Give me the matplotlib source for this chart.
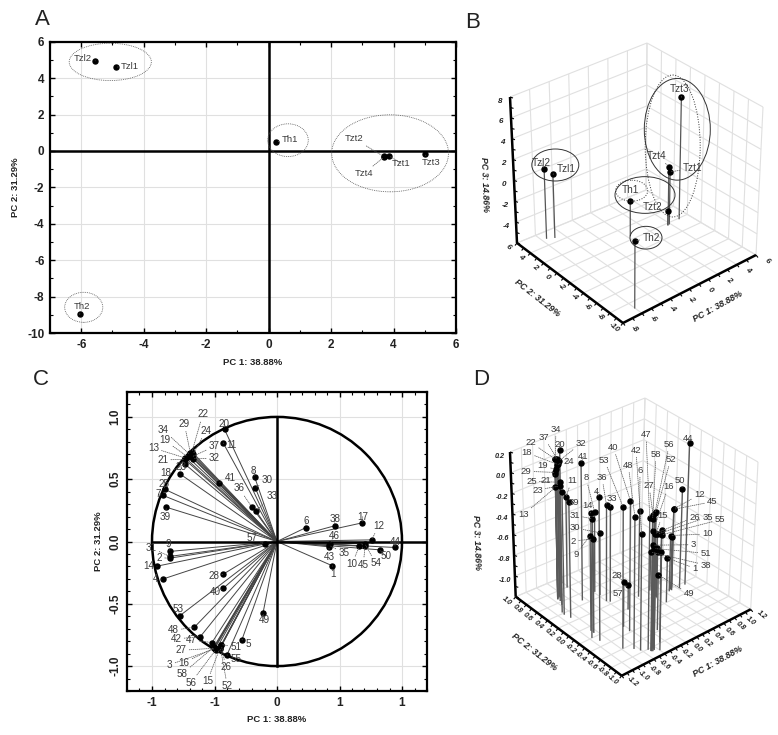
"""PCA figure: score plots (A, B) and loading plots (C, D)."""

import matplotlib
matplotlib.use("Agg")
import matplotlib.pyplot as plt
import numpy as np
from matplotlib.patches import Circle, Ellipse
from matplotlib.ticker import MultipleLocator

plt.rcParams["font.family"] = ["Liberation Sans", "DejaVu Sans"]
plt.rcParams["axes.unicode_minus"] = False

# scores
sample_names = ["Tzl1", "Tzl2", "Th1", "Th2", "Tzt1", "Tzt2", "Tzt3", "Tzt4"]
score_pc1 = [-4.9, -5.55, 0.25, -6.05, 3.87, 3.68, 5.0, 3.7]
score_pc2 = [4.6, 4.95, 0.5, -8.98, -0.28, -0.3, -0.17, -0.33]
score_pc3 = [0.1, 0.7, -2.6, 0.5, -1.0, -4.6, 5.6, -0.4]

# loadings, variables 1..58
var_ids = list(range(1, 59))
load_pc1 = [0.443, -0.86, -0.50, -0.915, -0.28, 0.232, -0.912, -0.18, -0.86, 0.659,
            -0.43, 0.757, -0.733, -0.96, -0.459, -0.50, 0.683, -0.735, -0.715, -0.42,
            -0.739, -0.68, -0.78, -0.672, -0.90, -0.445, -0.507, -0.43, -0.693, -0.173,
            -0.858, -0.672, -0.168, -0.70, 0.419, -0.203, -0.68, 0.461, -0.885, -0.432,
            -0.467, -0.613, 0.416, 0.944, 0.704, 0.424, -0.52, -0.661, -0.112, 0.821,
            -0.445, -0.453, -0.779, 0.704, -0.40, -0.49, -0.10, -0.507]
load_pc2 = [-0.195, -0.134, -0.862, -0.302, -0.787, 0.112, 0.37, 0.52, -0.08, -0.037,
            0.79, 0.013, 0.67, -0.198, -0.862, -0.854, 0.15, 0.62, 0.68, 0.90,
            0.66, 0.72, 0.545, 0.70, 0.42, -0.833, -0.857, -0.262, 0.71, 0.43,
            -0.12, 0.665, 0.244, 0.70, -0.032, 0.28, 0.68, 0.126, 0.275, -0.377,
            0.47, -0.763, -0.043, -0.048, -0.037, -0.019, -0.811, -0.688, -0.575, -0.067,
            -0.827, -0.854, -0.597, -0.019, -0.91, -0.87, -0.02, -0.849]
load_pc3 = [-0.776, -0.29, -0.175, 0.19, -0.33, -0.377, -0.016, -0.426, -0.277, -0.665,
            -0.325, -0.45, -0.12, 0.008, -0.08, -0.04, -0.68, 0.12, 0.045, 0.09,
            0.01, 0.122, -0.05, 0.074, 0.06, -0.09, 0.113, -0.765, 0.0, -0.60,
            -0.10, 0.12, -0.283, 0.13, -0.595, -0.275, 0.135, -0.83, -0.08, 0.06,
            0.127, -0.075, -0.76, 0.157, -0.425, -0.73, 0.072, 0.074, -0.665, -0.25,
            -0.235, 0.13, 0.171, -0.70, -0.085, 0.135, -0.96, 0.071]

pc1_title = "PC 1: 38.88%"
pc2_title = "PC 2: 31.29%"
pc3_title = "PC 3: 14.86%"
c_xticks = [-1.0, -0.5, 0.0, 0.5, 1.0]
c_xticklabels = ["-1", "-1", "0", "1", "1"]
c_yticks = [-1.0, -0.5, 0.0, 0.5, 1.0]
c_yticklabels = ["-1.0", "-0.5", "0.0", "0.5", "1.0"]

# everything below is layout, in figure pixels unless noted
W, H = 778, 735
TEXT = "#3a3a3a"
GRID = "#e0e0e0"

A_BOX = (50, 41.7, 456, 333)
C_BOX = (127, 392, 427, 691)

A_LABELS = {"Tzl2": (83.3, 58.7), "Tzl1": (130, 66), "Th1": (290, 139), "Tzt2": (354.3, 138.7),
            "Tzt1": (401, 163.3), "Tzt3": (431.3, 162.7), "Tzt4": (364, 173.3), "Th2": (81.7, 306.3)}
B_LABELS = {"Tzl2": (541, 163.3), "Tzl1": (566, 169), "Tzt3": (680, 88.7), "Tzt4": (656.7, 155.7),
            "Tzt1": (692.3, 168.3), "Th1": (630.7, 190.3), "Tzt2": (653, 206.7), "Th2": (651, 238.3)}
C_LABELS = {22: (202.7, 414.3), 29: (184.3, 423.7), 34: (163, 429.7), 20: (224, 424.3), 24: (206, 430.7),
            19: (164.7, 440.3), 37: (214.3, 446.3), 11: (231.7, 445), 13: (153.3, 448), 21: (162.7, 460),
            32: (214.3, 458.3), 18: (166, 473.3), 23: (181.3, 467.3), 8: (253.7, 470.7), 41: (230, 477.7),
            30: (267.3, 480), 25: (164, 483.7), 36: (239, 488.3), 7: (158.3, 494.3), 33: (271.7, 495.7),
            39: (165, 517.3), 57: (252.3, 537.7), 31: (151, 547.7), 9: (168.7, 544.3), 2: (159.3, 557.7),
            14: (148.7, 566.3), 4: (155.7, 579.3), 28: (213.7, 576), 40: (215.3, 592), 53: (178.3, 609.3),
            49: (264, 620.3), 48: (173.3, 630.3), 42: (176, 639), 47: (191, 640), 5: (248, 643.7),
            51: (235.7, 647), 27: (181, 650.3), 55: (235.7, 659), 16: (184, 662.7), 3: (169.7, 664.7),
            26: (225.7, 667.3), 58: (182, 674), 15: (207.3, 681.3), 56: (191, 682.7), 52: (227.3, 686),
            6: (306, 521), 38: (334.7, 519.3), 17: (362.7, 516.7), 12: (378.7, 525.7), 46: (334, 536.3),
            44: (395, 541.7), 35: (344, 553), 43: (329, 557), 10: (352, 564), 50: (386.3, 556.3),
            54: (375.7, 563.3), 45: (363.3, 564.7), 1: (332.7, 574)}
D_LABELS = {34: (556, 429.3), 37: (544, 437.3), 22: (530.7, 442.3), 20: (560, 444), 32: (581, 443.3),
            18: (526.7, 452.7), 24: (568.3, 461.7), 41: (583.3, 456.7), 19: (542.7, 465.7), 40: (613.3, 447.3),
            53: (604.3, 460), 29: (526, 471.3), 25: (531.3, 481), 21: (546, 480), 11: (571.7, 480.7),
            8: (586, 477.7), 36: (602, 477.3), 23: (537.3, 490), 4: (596.3, 491.7), 33: (612, 498),
            39: (573.7, 502.3), 14: (587.3, 505), 13: (523.3, 514.7), 31: (574.7, 515.3), 30: (575.3, 528),
            2: (573.3, 541), 9: (575.7, 554.7), 28: (616.7, 575.7), 57: (618.3, 593.3), 49: (689, 594),
            47: (646, 434.7), 56: (669.3, 444.3), 44: (688, 438.7), 42: (636, 450), 58: (656, 454.3),
            52: (670.7, 459.3), 48: (628.3, 465.3), 6: (640, 470), 50: (680.3, 480.3), 27: (649, 485.7),
            16: (668.3, 486.7), 12: (699.3, 494.7), 45: (712.3, 501.7), 15: (662.3, 515.3), 26: (694.3, 517),
            35: (707.7, 517), 55: (720, 519.7), 10: (707.3, 534), 3: (693.3, 544.7), 51: (705.7, 553.3),
            1: (694.7, 568.3), 38: (705.7, 565)}

# corners of the 3D boxes on the page: front, right, left, back
B_BOX = {"floor": [(623, 323), (756, 255), (517, 243), (646, 190)],
         "top": [(623, 177), (763, 107), (510, 97), (647, 43)],
         "lims": ((-8, 6), (-10, 6), (-6, 8))}
D_BOX = {"floor": [(621.7, 675.7), (750.7, 609.3), (515.7, 596.7), (641, 544)],
         "top": [(622, 532), (758, 462), (510, 452), (645, 398)],
         "lims": ((-1.2, 1.2), (-1.0, 1.0), (-1.2, 0.2))}


def make_axes(fig, box):
    left, top, right, bottom = box
    return fig.add_axes([left / W, 1 - bottom / H, (right - left) / W, (bottom - top) / H])


def style_2d(ax):
    ax.set_axisbelow(True)
    ax.grid(True, color=GRID, linewidth=0.8)
    ax.tick_params(which="major", direction="in", top=True, right=True, length=3.5, width=1,
                   labelsize=8.5, pad=4)
    ax.tick_params(which="minor", direction="in", top=True, right=True, length=2, width=0.8)
    for spine in ax.spines.values():
        spine.set_linewidth(1.6)
    for lab in ax.get_xticklabels() + ax.get_yticklabels():
        lab.set_fontweight("bold")
        lab.set_color("#222222")


def project(box, x, y, z):
    """Map data coordinates to page pixels by interpolating the box corners."""
    (x0, x1), (y0, y1), (z0, z1) = box["lims"]
    u = (np.asarray(x, float) - x0) / (x1 - x0)
    v = (np.asarray(y, float) - y0) / (y1 - y0)
    w = (np.asarray(z, float) - z0) / (z1 - z0)
    out = []
    for i in (0, 1):
        fl = [c[i] for c in box["floor"]]
        tp = [c[i] for c in box["top"]]
        lo = fl[0] * (1 - u) * (1 - v) + fl[1] * u * (1 - v) + fl[2] * (1 - u) * v + fl[3] * u * v
        hi = tp[0] * (1 - u) * (1 - v) + tp[1] * u * (1 - v) + tp[2] * (1 - u) * v + tp[3] * u * v
        out.append(lo * (1 - w) + hi * w)
    return out[0], out[1]


def seg(ov, box, a, b, **kw):
    px, py = project(box, [a[0], b[0]], [a[1], b[1]], [a[2], b[2]])
    ov.plot(px, py, solid_capstyle="butt", **kw)


def draw_box(ov, box, xticks, yticks, zticks, fmt, minor, ticksize):
    (x0, x1), (y0, y1), (z0, z1) = box["lims"]
    grid = dict(color=GRID, linewidth=0.8, zorder=1)
    for x in xticks:
        seg(ov, box, (x, y0, z0), (x, y1, z0), **grid)
        seg(ov, box, (x, y1, z0), (x, y1, z1), **grid)
    for y in yticks:
        seg(ov, box, (x0, y, z0), (x1, y, z0), **grid)
        seg(ov, box, (x1, y, z0), (x1, y, z1), **grid)
    for z in zticks:
        seg(ov, box, (x0, y1, z), (x1, y1, z), **grid)
        seg(ov, box, (x1, y1, z), (x1, y0, z), **grid)

    # heavy axes
    heavy = dict(color="black", linewidth=1.8, zorder=2)
    seg(ov, box, (x0, y0, z0), (x1, y0, z0), **heavy)
    seg(ov, box, (x0, y0, z0), (x0, y1, z0), **heavy)
    seg(ov, box, (x0, y1, z0), (x0, y1, z1), **heavy)

    tick = dict(color="black", linewidth=0.8, zorder=2, solid_capstyle="butt")
    for x in np.arange(x0, x1 + 1e-6, minor[0]):
        px, py = project(box, x, y0, z0)
        ov.plot([px, px + 2], [py, py + 2.5], **tick)
    for y in np.arange(y0, y1 + 1e-6, minor[1]):
        px, py = project(box, x0, y, z0)
        ov.plot([px, px - 2], [py, py + 2.5], **tick)
    for z in np.arange(z0, z1 + 1e-6, minor[2]):
        px, py = project(box, x0, y1, z)
        ov.plot([px, px + 3], [py, py + 1], **tick)

    lab = dict(fontsize=ticksize, fontweight="bold", style="italic", color="#222222",
               ha="center", va="center", zorder=6)
    for x in xticks:
        px, py = project(box, x, y0, z0)
        ov.text(px + 11, py + 6, fmt(x), rotation=-40, **lab)
    for y in yticks:
        px, py = project(box, x0, y, z0)
        ov.text(px - 9, py + 4.5, fmt(y), rotation=-40, **lab)
    for z in zticks:
        if z == z0:
            continue
        px, py = project(box, x0, y1, z)
        ov.text(px - 10, py + 4, fmt(z), **lab)


def draw_stems(ov, box, x, y, z, color, lw):
    (_, _), (_, _), (z0, _) = box["lims"]
    for xi, yi, zi in zip(x, y, z):
        seg(ov, box, (xi, yi, z0), (xi, yi, zi), color=color, linewidth=lw, zorder=3)
    px, py = project(box, x, y, z)
    ov.plot(px, py, "o", color="black", markersize=3.6, linestyle="none", zorder=4)


def label_point(ov, name, xy, xytext, fontsize, xycoords=None):
    ov.annotate(name, xy=xy, xycoords=xycoords or ov.transData, xytext=xytext, textcoords=ov.transData,
                ha="center", va="center", fontsize=fontsize, color=TEXT, zorder=7,
                arrowprops=dict(arrowstyle="-", linestyle=(0, (1, 1.5)), linewidth=0.55, color="#555555",
                                shrinkA=0, shrinkB=1))


def main():
    fig = plt.figure(figsize=(W / 100, H / 100), dpi=100)

    # panel A
    ax_a = make_axes(fig, A_BOX)
    ax_a.set_xlim(-7, 6)
    ax_a.set_ylim(-10, 6)
    ax_a.set_xticks(range(-6, 7, 2))
    ax_a.set_yticks(range(-10, 7, 2))
    ax_a.xaxis.set_minor_locator(MultipleLocator(1))
    ax_a.yaxis.set_minor_locator(MultipleLocator(1))
    style_2d(ax_a)
    ax_a.axhline(0, color="black", linewidth=1.8, zorder=2)
    ax_a.axvline(0, color="black", linewidth=1.8, zorder=2)
    ax_a.plot(score_pc1, score_pc2, "o", color="black", markersize=3.6, linestyle="none", zorder=4)
    for centre, width, height in [((-5.07, 4.89), 2.63, 2.05), ((0.62, 0.59), 1.3, 1.8),
                                  ((3.89, -0.13), 3.74, 4.23), ((-5.92, -8.59), 1.22, 1.65)]:
        ax_a.add_patch(Ellipse(centre, width, height, fill=False, edgecolor="#555555",
                               linewidth=0.6, linestyle=(0, (1, 1.2)), zorder=3))

    # panel C
    ax_c = make_axes(fig, C_BOX)
    ax_c.set_xlim(-1.2, 1.2)
    ax_c.set_ylim(-1.2, 1.2)
    ax_c.set_xticks(c_xticks)
    ax_c.set_xticklabels(c_xticklabels)
    ax_c.set_yticks(c_yticks)
    ax_c.set_yticklabels(c_yticklabels, rotation=90, va="center")
    ax_c.xaxis.set_minor_locator(MultipleLocator(0.1))
    ax_c.yaxis.set_minor_locator(MultipleLocator(0.1))
    style_2d(ax_c)
    for xi, yi in zip(load_pc1, load_pc2):
        ax_c.plot([0, xi], [0, yi], color="#444444", linewidth=0.7, zorder=2)
    ax_c.plot(load_pc1, load_pc2, "o", color="black", markersize=3.6, linestyle="none", zorder=4)
    ax_c.add_patch(Circle((0, 0), 1.0, fill=False, edgecolor="black", linewidth=1.8, zorder=3))
    ax_c.plot([-1, 1.2], [0, 0], color="black", linewidth=1.8, zorder=3)
    ax_c.plot([0, 0], [-1, 1], color="black", linewidth=1.8, zorder=3)

    # page-pixel overlay: 3D panels, labels, captions
    ov = fig.add_axes([0, 0, 1, 1])
    ov.set_xlim(0, W)
    ov.set_ylim(H, 0)
    ov.axis("off")

    # panel B
    draw_box(ov, B_BOX, list(range(-8, 7, 2)), list(range(-10, 7, 2)), list(range(-6, 9, 2)),
             lambda v: f"{v:d}", (1, 1, 1), 5.8)
    draw_stems(ov, B_BOX, score_pc1, score_pc2, score_pc3, "#555555", 0.9)
    for (cx, cy), width, height, style in [((555.3, 165), 47, 32, "-"), ((645, 195), 60, 36.7, "-"),
                                           ((631.7, 190.7), 32, 21, ":"), ((646, 237.7), 32, 22.7, "-"),
                                           ((677.3, 129.3), 66, 101.7, "-"), ((672.7, 146), 55, 142, ":")]:
        ov.add_patch(Ellipse((cx, cy), width, height, fill=False, edgecolor="#333333",
                             linewidth=0.7, linestyle=style, zorder=5))

    # panel D
    zfmt = lambda v: f"{v + 0.0:.1f}"
    draw_box(ov, D_BOX, [float(v) + 0.0 for v in np.round(np.arange(-1.2, 1.21, 0.2), 1)],
             [float(v) + 0.0 for v in np.round(np.arange(-1.0, 1.01, 0.2), 1)],
             [float(v) + 0.0 for v in np.round(np.arange(-1.2, 0.21, 0.2), 1)], zfmt, (0.1, 0.1, 0.1), 5.2)
    draw_stems(ov, D_BOX, load_pc1, load_pc2, load_pc3, "#5a5a5a", 1.0)

    # point labels
    for name, xi, yi, zi in zip(sample_names, score_pc1, score_pc2, score_pc3):
        label_point(ov, name, (xi, yi), A_LABELS[name], 6.8, ax_a.transData)
        label_point(ov, name, project(B_BOX, xi, yi, zi), B_LABELS[name], 7.2)
    for n, xi, yi, zi in zip(var_ids, load_pc1, load_pc2, load_pc3):
        label_point(ov, str(n), (xi, yi), C_LABELS[n], 7.1, ax_c.transData)
        if n in D_LABELS:
            label_point(ov, str(n), project(D_BOX, xi, yi, zi), D_LABELS[n], 6.8)

    # axis titles
    title = dict(fontsize=6.8, fontweight="bold", color="#222222", ha="center", va="center")
    ov.text(253, 362, pc1_title, **title)
    ov.text(16, 187, pc2_title, rotation=90, **title)
    ov.text(277, 719, pc1_title, **title)
    ov.text(99, 541, pc2_title, rotation=90, **title)
    skew = dict(title, style="italic")
    skew["fontsize"] = 6.4
    ov.text(718.3, 306, pc1_title, rotation=29, **skew)
    ov.text(537.3, 297.7, pc2_title, rotation=-38, **skew)
    ov.text(484, 184.3, pc3_title, rotation=-88, **skew)
    ov.text(717.7, 661.7, pc1_title, rotation=29, **skew)
    ov.text(534, 651.7, pc2_title, rotation=-38, **skew)
    ov.text(476, 542.7, pc3_title, rotation=-88, **skew)

    # panel letters
    for letter, px, py in [("A", 42, 19), ("B", 473, 22), ("C", 41, 379), ("D", 481, 379)]:
        ov.text(px, py, letter, fontsize=16, color="#222222", ha="center", va="center")

    fig.savefig("out.png", dpi=100)
    plt.close(fig)


if __name__ == "__main__":
    main()
